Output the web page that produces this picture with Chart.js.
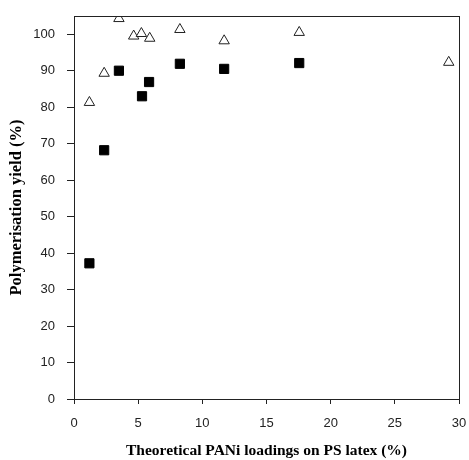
<!DOCTYPE html>
<html>
<head>
<meta charset="utf-8">
<script src="https://cdn.jsdelivr.net/npm/chart.js@4/dist/chart.umd.min.js"></script>
<style>
  html, body { margin: 0; padding: 0; background: #fff; }
  #wrap { width: 469px; height: 460px; }
</style>
</head>
<body>
<div id="wrap"><canvas id="yieldChart" width="469" height="460"></canvas></div>
<script>
// Theoretical PANi loading (%) and polymerisation yield (%)
const triangleX = [1.2, 2.35, 3.5, 4.65, 5.25, 5.9, 8.25, 11.7, 17.55, 29.2];
const triangleY = [81.3, 89.3, 104.3, 99.5, 100.2, 98.9, 101.3, 98.2, 100.5, 92.3];
const squareX = [1.2, 2.35, 3.5, 5.3, 5.85, 8.25, 11.7, 17.55];
const squareY = [37.2, 68.2, 90, 83, 86.9, 91.9, 90.5, 92.1];

const xTicks = [0, 5, 10, 15, 20, 25, 30];
const yTicks = [0, 10, 20, 30, 40, 50, 60, 70, 80, 90, 100];

const toPoints = (xs, ys) => xs.map((x, i) => ({ x: x, y: ys[i] }));

// draw the frame round the plot area
const frame = {
    id: 'frame',
    afterDraw(chart) {
        const a = chart.chartArea;
        const ctx = chart.ctx;
        ctx.save();
        ctx.strokeStyle = '#222';
        ctx.lineWidth = 1;
        ctx.strokeRect(a.left + 0.5, a.top + 0.5, a.right - a.left, a.bottom - a.top);
        ctx.restore();
    }
};

const tickFont = { family: 'Liberation Sans', size: 13 };

new Chart(document.getElementById('yieldChart').getContext('2d'), {
    type: 'scatter',
    data: {
        datasets: [
            {
                label: 'open',
                data: toPoints(triangleX, triangleY),
                pointStyle: 'triangle',
                pointRadius: 6,
                backgroundColor: '#fff',
                borderColor: '#222',
                borderWidth: 1
            },
            {
                label: 'filled',
                data: toPoints(squareX, squareY),
                pointStyle: 'rect',
                pointRadius: 6.5,
                backgroundColor: '#000',
                borderColor: '#000',
                borderWidth: 1
            }
        ]
    },
    options: {
        responsive: false,
        animation: false,
        layout: { padding: { left: 0, top: 16, right: 10, bottom: 0 } },
        plugins: {
            legend: { display: false },
            tooltip: { enabled: false }
        },
        scales: {
            x: {
                type: 'linear',
                min: 0,
                max: 30,
                afterBuildTicks: s => { s.ticks = xTicks.map(v => ({ value: v })); },
                afterFit: s => { s.height = 61; s.paddingLeft = 0; s.paddingRight = 0; },
                ticks: { color: '#222', font: tickFont, padding: 12 },
                grid: { display: true, drawOnChartArea: false, drawTicks: true, tickLength: 5, color: '#222' },
                border: { display: true, color: '#222' },
                title: { display: true, text: 'Theoretical PANi loadings on PS latex (%)', color: '#000',
                    font: { family: 'Liberation Serif', size: 15.5, weight: 'bold' }, padding: { top: 0, bottom: 0 } }
            },
            y: {
                type: 'linear',
                min: 0,
                max: 105,
                afterBuildTicks: s => { s.ticks = yTicks.map(v => ({ value: v })); },
                afterFit: s => { s.width = 74; s.paddingTop = 0; s.paddingBottom = 0; },
                ticks: { color: '#222', font: tickFont, padding: 12 },
                grid: { display: true, drawOnChartArea: false, drawTicks: true, tickLength: 7, color: '#222' },
                border: { display: true, color: '#222' },
                title: { display: true, text: 'Polymerisation yield (%)', color: '#000',
                    font: { family: 'Liberation Serif', size: 16.5, weight: 'bold' }, padding: { top: 7, bottom: 0 } }
            }
        }
    },
    plugins: [frame]
});
</script>
</body>
</html>
